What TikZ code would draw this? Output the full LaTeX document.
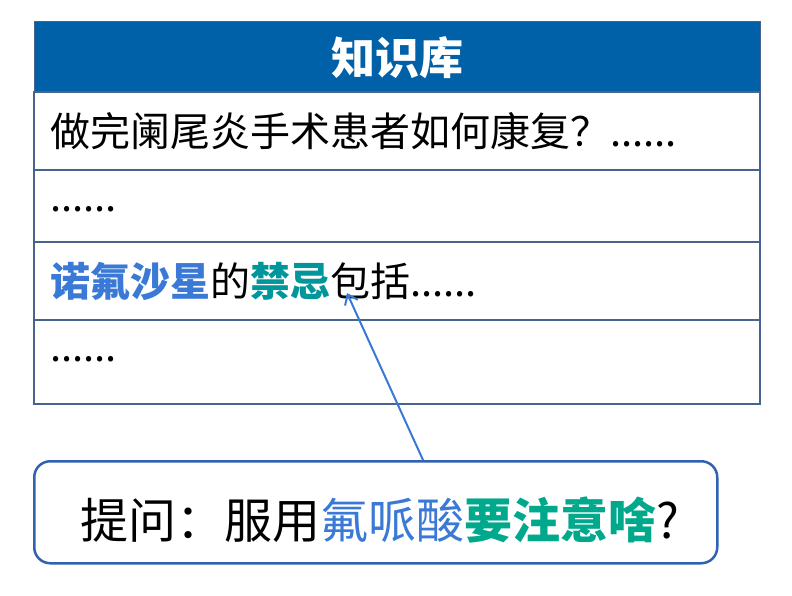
\documentclass[tikz,border=0pt]{standalone}
\usepackage{fontspec}
\setmainfont{Noto Sans CJK SC}
\usetikzlibrary{arrows.meta}
\definecolor{hdrblue}{RGB}{0,96,168}
\definecolor{gridc}{RGB}{72,100,140}
\definecolor{kwblue}{RGB}{58,122,214}
\definecolor{kwteal}{RGB}{0,150,155}
\definecolor{kwgreen}{RGB}{0,168,140}
\definecolor{boxc}{RGB}{48,98,176}
\definecolor{arrc}{RGB}{58,120,214}
\tikzset{
  rowtext/.style={anchor=west, inner sep=0pt, font=\fontsize{40}{44}\selectfont, text=black},
  grid/.style={draw=gridc, line width=2pt},
  callout/.style={draw=boxc, line width=2.5pt, rounded corners=16pt, fill=white},
}
\begin{document}
\begin{tikzpicture}[x=1pt,y=-1pt]
\useasboundingbox (0,0) rectangle (792,596);
% header
\fill[hdrblue] (34,22) rectangle (760,92);
\node[inner sep=0pt, text=white, font=\fontsize{44}{48}\selectfont\bfseries] (hdr) at (397,58) {知识库};
% table rows
\draw[grid] (34,92) rectangle (760,404);
\draw[grid] (34,170) -- (760,170);
\draw[grid] (34,242) -- (760,242);
\draw[grid] (34,320) -- (760,320);
\draw[gridc, line width=1pt] (34,22) rectangle (760,92);
\node[rowtext] (r1) at (50,131) {做完阑尾炎手术患者如何康复？......};
\node[rowtext] (r2) at (50,209) {......};
\node[rowtext] (r3) at (50,281) {{\bfseries\color{kwblue}诺氟沙星}的{\bfseries\color{kwteal}禁忌}包括......};
\node[rowtext] (r4) at (50,359) {......};
% callout
\node[callout, minimum width=683pt, minimum height=102pt, anchor=north west, inner sep=0pt] (q) at (33,460) {};
\node[anchor=west, inner sep=0pt, font=\fontsize{48}{52}\selectfont] (qt) at (80,520)
  {提问：服用{\color{kwblue}氟哌酸}{\bfseries\color{kwgreen}要注意啥}?};
\coordinate (tail) at (423,460);
\coordinate (tip) at (347,293);
\draw[arrc, line width=2pt, -{Straight Barb[length=9pt,width=14pt,line width=2pt]}] (tail) -- (tip);
\end{tikzpicture}
\end{document}
